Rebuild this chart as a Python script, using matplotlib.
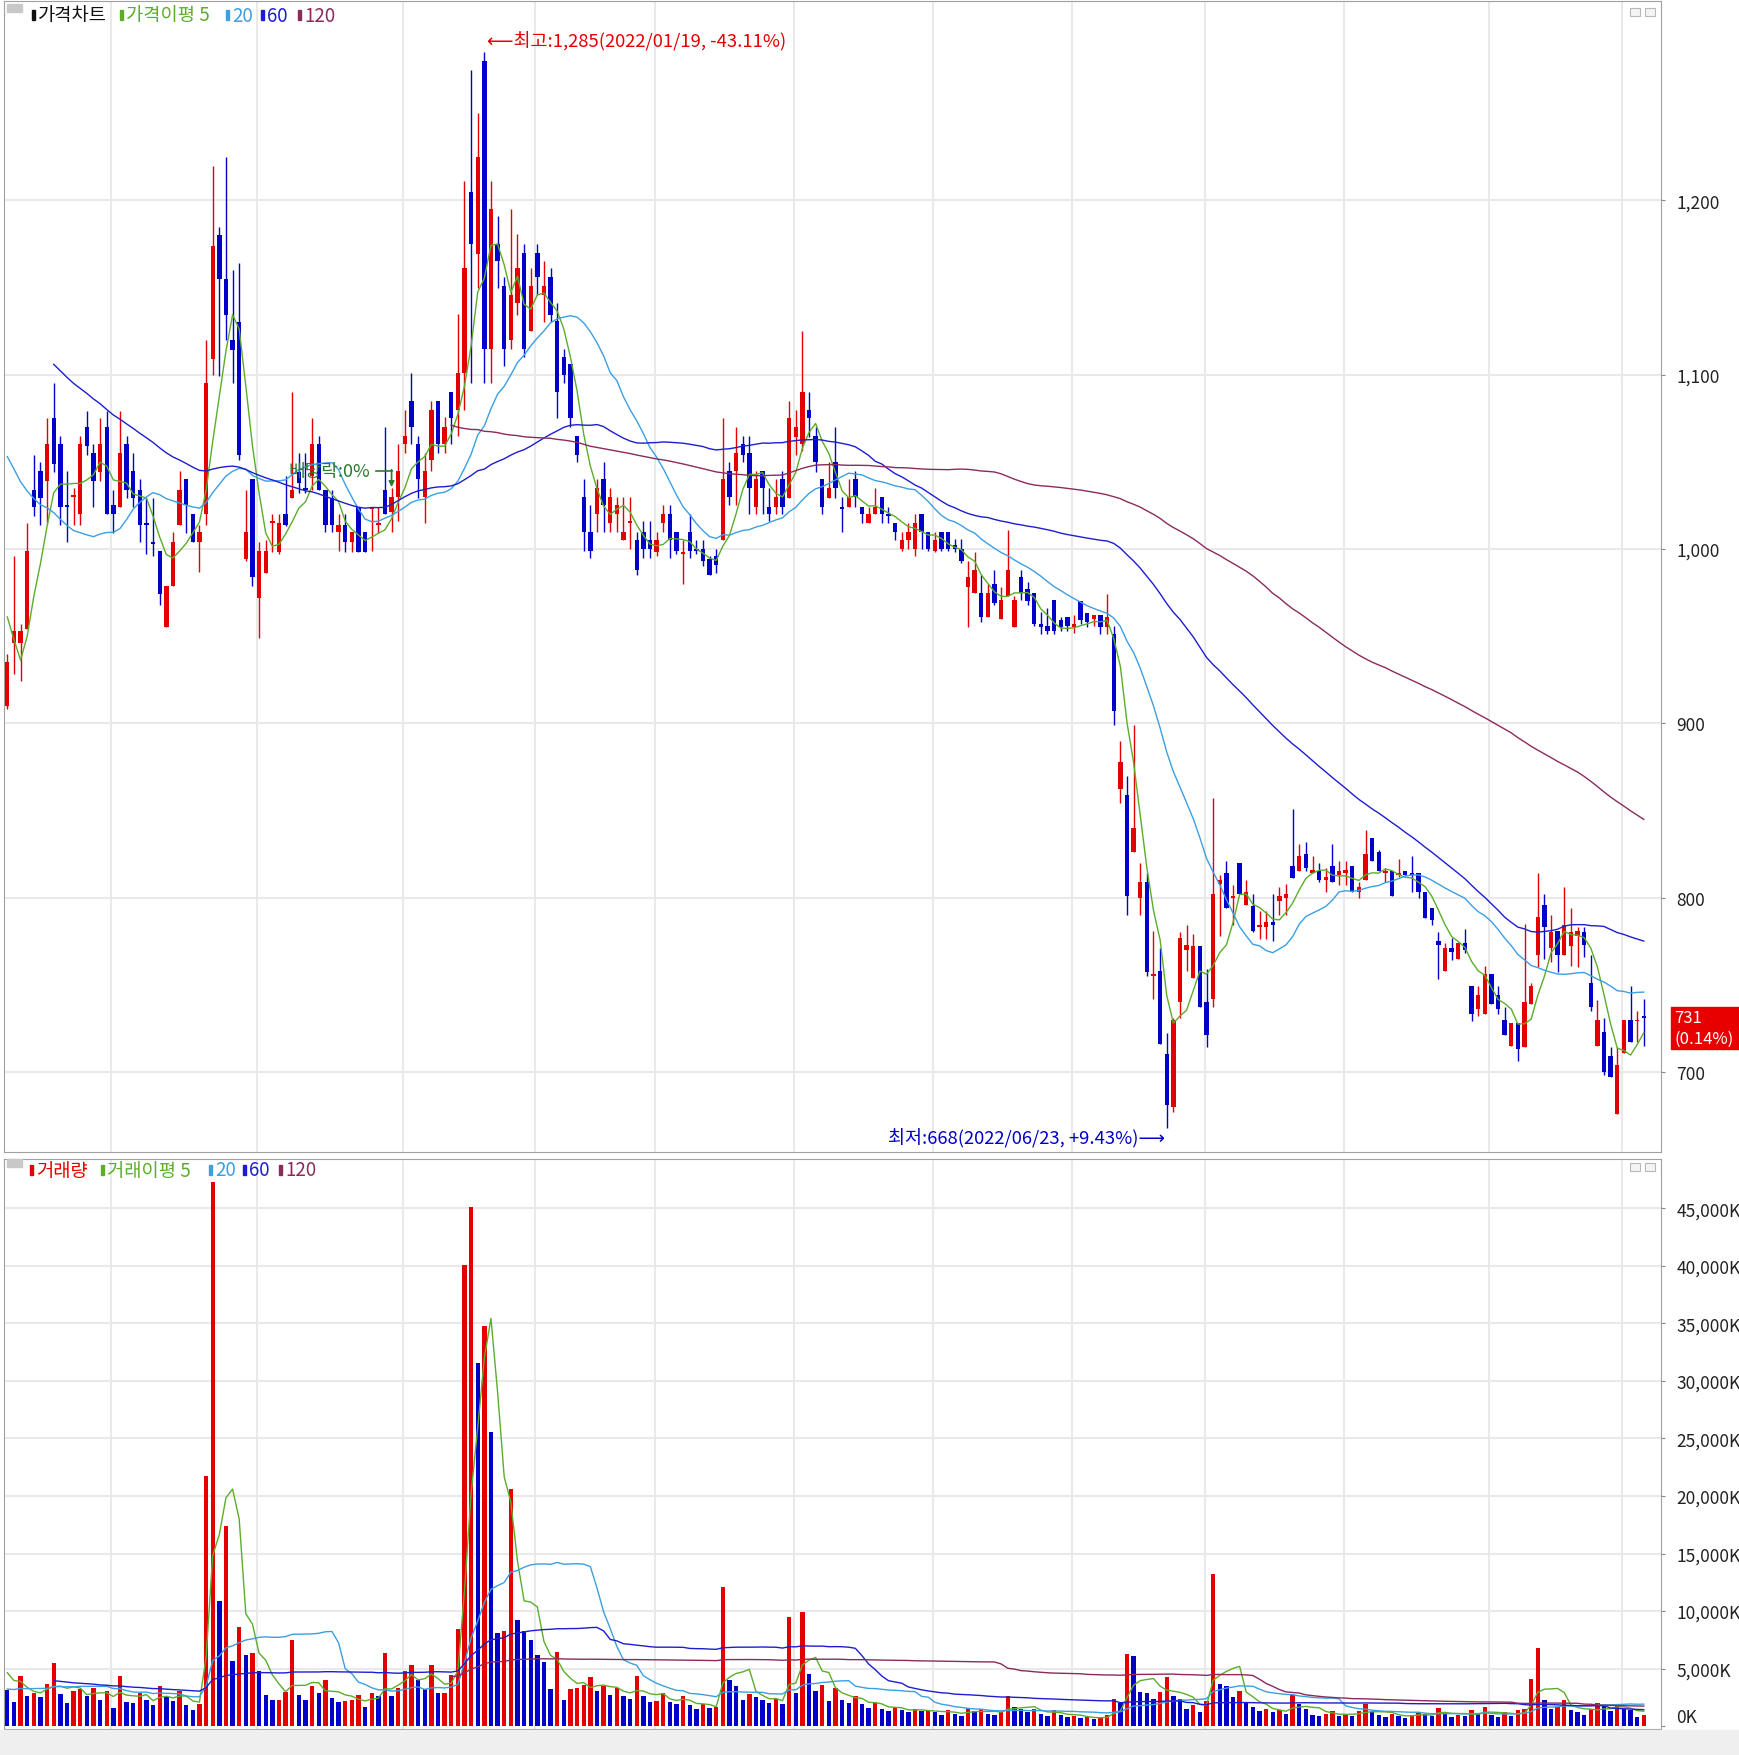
import numpy as np
import pandas as pd
import matplotlib
matplotlib.use('Agg')
import matplotlib.pyplot as plt
from matplotlib.patches import Rectangle
from matplotlib.transforms import blended_transform_factory

plt.rcParams['font.family'] = ['Noto Sans CJK KR', 'DejaVu Sans']

W, H = 1739, 1756

month_labels = ['10', '11', '12', '2022/01', '02', '03', '04', '05', '06', '07', '08', '09', '10']
month_starts = [0, 16, 38, 60, 80, 98, 119, 140, 161, 181, 202, 224, 244]

# sessions before the visible window, only used to warm up the moving averages
pre_closes = [1250, 1245, 1240, 1235, 1230, 1228, 1225, 1219,
              1210, 1200, 1195, 1185, 1180, 1170, 1165, 1160, 1150, 1145, 1140, 1145,
              1130, 1120, 1115, 1110, 1105, 1100, 1095, 1090, 1090, 1095, 1090, 1085, 1088,
              1095, 1100, 1105, 1110, 1100, 1095, 1105, 1100, 1095, 1090, 1085, 1083,
              1060, 1030, 1002, 1018, 1012, 930, 910]
pre_volumes = [6100, 5800, 7200, 5400, 4900, 5600, 6300, 4800, 5100, 4500, 5900, 4700, 4400,
               5300, 4600, 4200, 5000, 4300, 4800,
               4100, 3600, 3900, 3300, 4400, 3500, 3700, 3200, 4000, 3400, 3100, 3600, 3000, 3300,
               2900, 2500, 3100, 2700, 2400, 3300, 2600, 2800, 2300, 3000, 2500, 2700, 3200, 2400, 2900,
               5500, 4800, 5200, 4600]

opens = [910, 946, 946, 954, 1034, 1045, 1039, 1075, 1060, 1025, 1030, 1020, 1070, 1055, 1044, 1070,
         1025, 1024, 1060, 1045, 1034, 1015, 1004, 999, 955, 979, 1014, 1040, 1020, 1004,
         1020, 1109, 1180, 1155, 1120, 1130, 994, 1040,
         972, 986, 1015, 998, 1020, 1029, 1044, 1035, 1042, 1060, 1034, 1029, 1010, 1014, 1004, 1024,
         1010, 1023, 1014, 1034, 1021, 1030,
         1060, 1085, 1060, 1030, 1051, 1085, 1060, 1090, 1080, 1101, 1205, 1169, 1280, 1115, 1175, 1151,
         1120, 1141, 1170, 1125,
         1170, 1146, 1156, 1131, 1110, 1106, 1065, 1030, 1010, 1020, 1040, 1015, 1020, 1005, 1015, 1005,
         1010, 1005,
         998, 1015, 1020, 1010, 997, 1010, 1000, 1000, 994, 996, 1005, 1045, 1045, 1060, 1055, 1024, 1045,
         1024, 1024, 1040, 1029,
         1064, 1060, 1080, 1065, 1040, 1029, 1050, 1024, 1024, 1040, 1024, 1015, 1020, 1030, 1020, 1015,
         1000, 1005, 1000, 1020, 1010,
         999, 1010, 1010, 1002, 1000, 978, 975, 975, 961, 980, 960, 973, 955, 984, 977, 975, 957, 956,
         971, 959, 961,
         955, 970, 963, 960, 962, 955, 951, 862, 859, 826, 800, 809, 755, 758, 710, 680, 740, 770, 754, 772,
         740, 742, 808, 814, 800, 820, 796, 795, 783, 783, 786, 798, 800, 818, 815, 825, 814, 815, 810, 818,
         813,
         814, 818, 803, 810, 834, 826, 814, 815, 813, 815, 814, 814, 803, 794, 775, 758, 771, 765, 774, 749,
         736, 733,
         756, 744, 730, 715, 728, 714, 739, 767, 796, 771, 781, 767, 772, 778, 780, 751, 715, 723, 709, 676,
         711, 730, 729, 732]
highs = [940, 996, 957, 1015, 1054, 1050, 1075, 1095, 1065, 1045, 1035, 1065, 1079, 1060, 1075, 1079,
         1034, 1079, 1065, 1055, 1040, 1029, 1029, 999, 979, 1010, 1045, 1040, 1020, 1014,
         1120, 1220, 1185, 1225, 1160, 1164, 1034, 1040,
         1004, 1005, 1020, 1020, 1042, 1090, 1055, 1055, 1075, 1065, 1034, 1034, 1020, 1020, 1010, 1024,
         1010, 1024, 1024, 1070, 1035, 1060,
         1080, 1101, 1065, 1055, 1085, 1085, 1076, 1090, 1135, 1211, 1275, 1250, 1285, 1211, 1191, 1156,
         1195, 1181, 1175, 1161,
         1175, 1165, 1161, 1141, 1115, 1106, 1065, 1040, 1025, 1040, 1050, 1035, 1030, 1030, 1030, 1010,
         1016, 1016,
         1010, 1025, 1025, 1010, 1005, 1020, 1005, 1005, 996, 1000, 1075, 1050, 1070, 1065, 1065, 1045,
         1045, 1035, 1040, 1045, 1085,
         1080, 1125, 1090, 1070, 1040, 1050, 1070, 1030, 1040, 1045, 1024, 1024, 1035, 1030, 1024, 1015,
         1010, 1015, 1020, 1020, 1010,
         1010, 1010, 1010, 1006, 1006, 993, 998, 985, 980, 988, 978, 1011, 973, 988, 981, 975, 964, 966,
         971, 961, 961,
         962, 970, 963, 962, 962, 974, 956, 890, 870, 899, 820, 814, 781, 771, 722, 731, 780, 784, 779, 772,
         759, 857, 813, 821, 807, 820, 810, 802, 792, 792, 802, 806, 808, 851, 831, 832, 824, 820, 817, 831,
         821,
         821, 818, 809, 839, 834, 827, 817, 815, 822, 815, 824, 814, 803, 794, 780, 774, 777, 774, 782, 749,
         749, 761,
         756, 749, 737, 728, 728, 785, 751, 814, 802, 790, 781, 806, 794, 783, 783, 767, 741, 731, 714, 714,
         730, 749, 735, 742]
lows = [908, 928, 924, 954, 1019, 1014, 1015, 1044, 1014, 1004, 1014, 1014, 1054, 1024, 1039, 1020,
        1009, 1024, 1029, 1024, 1004, 997, 996, 968, 955, 979, 1014, 1009, 1004, 987,
        1014, 1100, 1099, 1120, 1095, 1051, 993, 979,
        949, 986, 998, 997, 1013, 1029, 1032, 1032, 1034, 1034, 1010, 1010, 999, 998, 998, 998,
        998, 999, 1009, 1020, 1010, 1016,
        1055, 1060, 1029, 1015, 1045, 1055, 1055, 1060, 1065, 1080, 1095, 1150, 1095, 1095, 1150, 1105,
        1115, 1134, 1110, 1125,
        1146, 1130, 1130, 1075, 1095, 1070, 1050, 999, 995, 1010, 1010, 1010, 1010, 1005, 1000, 985,
        995, 995,
        996, 1010, 995, 997, 980, 995, 997, 990, 985, 986, 1005, 1025, 1025, 1050, 1020, 1020, 1020,
        1016, 1020, 1020, 1029,
        1054, 1056, 1064, 1044, 1020, 1029, 1029, 1010, 1024, 1024, 1015, 1015, 1020, 1015, 1015, 1005,
        999, 1000, 996, 1000, 999,
        998, 999, 999, 998, 992, 955, 975, 958, 961, 968, 960, 973, 955, 971, 968, 956, 951, 951,
        951, 953, 953,
        952, 957, 955, 956, 951, 951, 899, 854, 790, 826, 790, 755, 742, 716, 668, 677, 731, 758, 754, 737,
        714, 737, 778, 794, 784, 802, 796, 780, 776, 776, 775, 790, 790, 811, 815, 815, 814, 809, 803, 809,
        807,
        807, 803, 800, 810, 821, 815, 809, 801, 812, 813, 803, 800, 788, 784, 753, 758, 764, 765, 768, 729,
        732, 733,
        739, 733, 721, 715, 706, 714, 739, 760, 765, 763, 757, 767, 761, 760, 766, 735, 715, 698, 697, 676,
        711, 717, 717, 715]
closes = [935, 953, 953, 999, 1024, 1029, 1060, 1049, 1024, 1024, 1031, 1060, 1059, 1039, 1060, 1020,
          1020, 1055, 1034, 1029, 1014, 1014, 1003, 974, 979, 1004, 1034, 1025, 1004, 1010,
          1095, 1174, 1155, 1134, 1114, 1054, 1010, 984,
          999, 999, 1016, 1015, 1014, 1034, 1038, 1034, 1060, 1034, 1014, 1014, 1014, 1004, 1010, 998,
          998, 1024, 1015, 1020, 1030, 1045,
          1065, 1070, 1040, 1045, 1080, 1060, 1070, 1075, 1101, 1161, 1175, 1225, 1115, 1195, 1165, 1115,
          1146, 1161, 1115, 1151,
          1156, 1151, 1134, 1090, 1100, 1075, 1054, 1010, 999, 1035, 1025, 1030, 1025, 1010, 1016, 988,
          1000, 1000,
          1005, 1020, 1005, 999, 998, 999, 999, 993, 985, 991, 1040, 1030, 1055, 1054, 1035, 1040, 1035,
          1020, 1030, 1024, 1075,
          1070, 1090, 1075, 1050, 1024, 1035, 1035, 1023, 1030, 1030, 1020, 1020, 1024, 1020, 1019, 1010,
          1005, 1010, 1015, 1010, 1000,
          1005, 1000, 1000, 1000, 993, 984, 988, 961, 975, 969, 971, 988, 971, 975, 970, 957, 955, 953,
          953, 955, 956,
          957, 959, 958, 962, 955, 961, 907, 878, 801, 840, 809, 757, 756, 716, 681, 730, 777, 773, 772, 737,
          721, 802, 810, 794, 801, 802, 803, 781, 784, 786, 784, 801, 802, 811, 824, 817, 816, 810, 812, 809,
          815,
          816, 803, 806, 825, 821, 815, 815, 801, 814, 813, 813, 803, 788, 787, 773, 771, 769, 774, 770, 733,
          744, 756,
          739, 736, 721, 728, 713, 740, 749, 789, 783, 780, 767, 784, 780, 781, 773, 737, 730, 700, 697, 704,
          730, 717, 730, 731]
# volume in thousands of shares
volumes = [3150, 2100, 4400, 2600, 2900, 2500, 3700, 5500, 2800, 2000, 3100, 3200, 2600, 3300, 2300, 3100,
           1600, 4400, 2100, 2000, 2900, 2300, 1800, 3500, 2500, 2200, 3100, 1800, 1380, 1970,
           21700, 47300, 10900, 17400, 5700, 8650, 6200, 6400,
           4770, 2700, 2250, 2300, 2960, 7500, 2700, 2300, 3520, 2860, 4010, 2470, 2070, 2200, 2300, 2700,
           1710, 2860, 2630, 6350, 2630, 3360,
           4770, 5330, 4010, 3190, 5330, 2860, 2870, 4440,
           8450, 40070, 45130, 31580, 34770, 25600, 8060, 8290, 20630, 9210, 8290, 7500, 6180, 5590, 3220,
           6480, 2300, 3220, 3360,
           3600, 4300, 3100, 3500, 2700, 3300, 2600, 2400, 4400, 2600, 2100,
           2200, 2900, 2100, 1900, 2600, 1800, 1500, 1900, 1600, 1700, 12100, 4000, 3500, 2300, 2800, 2500,
           2300, 2000, 2400, 1900, 9500,
           2900, 9900, 4500, 3100, 3600, 2200, 3300, 2300, 2000, 2600, 1900, 1600, 2100, 1500, 1300, 1700,
           1400, 1200, 1500, 1300, 1400,
           1200, 1000, 1400, 1100, 900, 1600, 1300, 1500, 1100, 1000, 1200, 2600, 1700, 1500, 1200, 1500,
           1100, 900, 1400, 1000, 800,
           900, 700, 800, 600, 700, 1000, 2400, 2000, 6300, 6100, 3000, 2900, 2400, 3000, 4300, 2600, 2400,
           1500, 1800, 1200,
           2200, 13200, 3700, 3500, 2500, 3100, 2000, 1700, 1300, 1500, 1200, 1400, 1100, 2700, 1900, 1500,
           1000, 900, 1100, 1300, 900,
           1000, 900, 1300, 1900, 1200, 1000, 800, 1100, 900, 700, 1000, 1200, 1100, 900, 1600, 1200, 800,
           1000, 900, 1400, 1100, 1700,
           1000, 800, 1200, 900, 1400, 1500, 4100, 6800, 2300, 1500, 1700, 2300, 1400, 1200, 1000, 1500,
           2000, 1800, 1300, 1800,
           1500, 1400, 800, 1000]

UP = '#e40000'
DN = '#0000c8'
MA_COLORS = {5: '#5cad2a', 20: '#3b9fe2', 60: '#1d1dd0', 120: '#8a2b5c'}
GRID = '#e9e9e9'
FRAME = '#a0a0a0'
FS = 12.5


def px(x, y):
    # pixel position of the screenshot -> figure fraction
    return x / W, 1 - y / H


def moving_averages(pre, values):
    s = pd.Series(list(pre) + list(values), dtype=float)
    k = len(pre)
    return {w: s.rolling(w).mean().to_numpy()[k:] for w in (5, 20, 60, 120)}


def legend_row(fig, y, items):
    fig.patches.append(Rectangle(px(7, y - 3), 15 / W, 8 / H, transform=fig.transFigure,
                                 color='#c8c8c8', zorder=5))
    for x, text, color in items:
        fig.patches.append(Rectangle(px(x - 6, y + 5), 3 / W, 10 / H, transform=fig.transFigure,
                                     color=color, zorder=5))
        fig.text(*px(x, y), text, color=color, fontsize=13.5, va='center', ha='left')


def panel_icons(fig, y):
    for x in (1630, 1645):
        fig.patches.append(Rectangle(px(x, y + 8), 10 / W, 8 / H, transform=fig.transFigure,
                                     facecolor='#f4f4f4', edgecolor='#b8b8b8', lw=0.8, zorder=5))


def main():
    o = np.array(opens, float)
    h = np.array(highs, float)
    lo = np.array(lows, float)
    c = np.array(closes, float)
    v = np.array(volumes, float)
    n = len(c)
    x = np.arange(n)

    fig = plt.figure(figsize=(W / 100, H / 100), dpi=100)
    fig.patch.set_facecolor('white')
    fig.patches.append(Rectangle((0, 0), 1, 25 / H, transform=fig.transFigure,
                                 color='#efefef', zorder=0))

    ax = fig.add_axes([4 / W, 1 - 1153 / H, 1657 / W, 1151 / H])
    axv = fig.add_axes([4 / W, 1 - 1730 / H, 1657 / W, 570 / H])

    for a in (ax, axv):
        a.set_xlim(-0.5, 249.6)
        for sp in a.spines.values():
            sp.set_color(FRAME)
        a.yaxis.tick_right()
        a.tick_params(axis='y', length=3, color='#888888', labelsize=FS, pad=8, labelcolor='#222222')
        a.tick_params(axis='x', bottom=False, labelbottom=False)
        for m in month_starts[1:]:
            a.axvline(m - 0.3, color=GRID, lw=1.5, zorder=0)

    # price panel
    ax.set_ylim(654, 1314.4)
    ax.set_yticks(range(700, 1201, 100))
    ax.set_yticklabels([f'{t:,}' for t in range(700, 1201, 100)])
    for t in range(700, 1201, 100):
        ax.axhline(t, color=GRID, lw=1.5, zorder=0)

    col = np.where(c >= o, UP, DN)
    ax.vlines(x, lo, h, colors=col, lw=1.0, zorder=2)
    ax.bar(x, np.maximum(np.abs(c - o), 0.9), bottom=np.minimum(o, c), width=0.66,
           color=col, linewidth=0, zorder=3)

    ma = moving_averages(pre_closes, c)
    for w, line in ma.items():
        ax.plot(x, line, color=MA_COLORS[w], lw=1.0, zorder=4)

    ax.text(72.4, 1292, '\u27f5최고:1,285(2022/01/19, -43.11%)', color=UP, fontsize=13.3,
            ha='left', va='center', zorder=6)
    ax.text(174.7, 662.7, '최저:668(2022/06/23, +9.43%)\u27f6', color=DN, fontsize=13.3,
            ha='right', va='center', zorder=6)
    ax.text(42.4, 1045, '배당락:0%', color='#2b7a2b', fontsize=13, ha='left', va='center', zorder=6)
    ax.plot([55.6, 58], [1045, 1045], color='#2b7a2b', lw=1.2, zorder=6)
    ax.annotate('', xy=(58, 1035.5), xytext=(58, 1045.5), zorder=6,
                arrowprops=dict(arrowstyle='-|>', color='#2b7a2b', lw=1.2, mutation_scale=8,
                                shrinkA=0, shrinkB=0))

    # current price tag
    fig.patches.append(Rectangle(px(1671, 1050), 68 / W, 42 / H, transform=fig.transFigure,
                                 color='#e80000', zorder=5))
    fig.text(*px(1674, 1019), str(closes[-1]), color='white', fontsize=12, va='center', zorder=6)
    fig.text(*px(1674, 1039), '(0.14%)', color='white', fontsize=12, va='center', zorder=6)

    # volume panel
    axv.set_ylim(-243, 49280)
    vt = list(range(0, 45001, 5000))
    axv.set_yticks(vt)
    axv.set_yticklabels([f'{t:,}K' for t in vt])
    axv.get_yticklabels()[0].set_va('bottom')
    for t in vt[1:]:
        axv.axhline(t, color=GRID, lw=1.5, zorder=0)
    prev = np.concatenate([[pre_volumes[-1]], v[:-1]])
    vcol = np.where(v >= prev, UP, DN)
    axv.bar(x, v, width=0.66, color=vcol, linewidth=0, zorder=2)
    vma = moving_averages(pre_volumes, v)
    for w, line in vma.items():
        axv.plot(x, line, color=MA_COLORS[w], lw=1.0, zorder=4)

    trans = blended_transform_factory(axv.transData, axv.transAxes)
    for m, lab in zip(month_starts, month_labels):
        axv.text(m - 0.1, -0.024, lab, transform=trans, ha='left', va='center', fontsize=FS,
                 color='#222222', fontweight='bold' if lab == '2022/01' else 'normal')

    # legends
    legend_row(fig, 16, [(38, '가격차트', '#111111'),
                         (126, '가격이평 5', MA_COLORS[5]),
                         (232, '20', MA_COLORS[20]),
                         (267, '60', MA_COLORS[60]),
                         (304, '120', MA_COLORS[120])])
    legend_row(fig, 1171, [(36, '거래량', UP),
                           (107, '거래이평 5', MA_COLORS[5]),
                           (215, '20', MA_COLORS[20]),
                           (249, '60', MA_COLORS[60]),
                           (285, '120', MA_COLORS[120])])
    panel_icons(fig, 9)
    panel_icons(fig, 1164)

    fig.savefig('out.png', dpi=100)


if __name__ == '__main__':
    main()
